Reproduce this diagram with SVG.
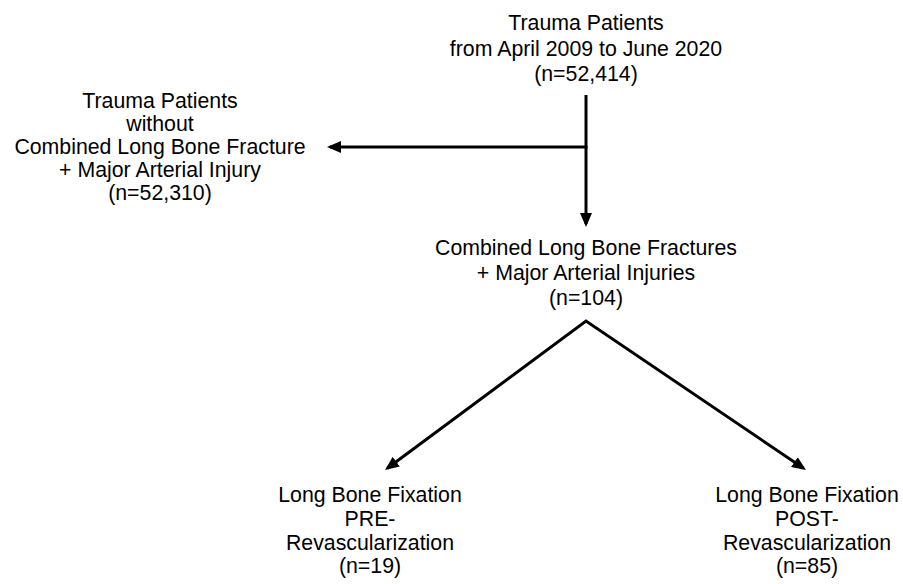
<svg xmlns="http://www.w3.org/2000/svg" width="903" height="584" viewBox="0 0 903 584">
<style>
text{font-family:"Liberation Sans",Arial,sans-serif;font-size:21.3px;fill:#000;text-anchor:middle}
.c{fill:none;stroke:#000;stroke-width:3;stroke-linejoin:miter}
</style>
<defs>
<marker id="ah" viewBox="0 0 14 12" refX="11" refY="6" markerWidth="14" markerHeight="12" markerUnits="userSpaceOnUse" orient="auto-start-reverse">
<path d="M0,0 L14,6 L0,12 z" fill="#000"/>
</marker>
</defs>
<rect width="903" height="584" fill="#fff"/>
<g id="connectors">
<line class="c" x1="586" y1="95" x2="586" y2="224" marker-end="url(#ah)"/>
<line class="c" x1="587.5" y1="147" x2="330" y2="147" marker-end="url(#ah)"/>
<polyline class="c" points="387.4,468.2 586,321 803.5,468.3" marker-start="url(#ah)" marker-end="url(#ah)"/>
</g>
<g id="n-all">
<text x="586" y="30">Trauma Patients</text>
<text x="586" y="55.5">from April 2009 to June 2020</text>
<text x="586" y="81">(n=52,414)</text>
</g>
<g id="n-excluded">
<text x="160" y="108">Trauma Patients</text>
<text x="160" y="131">without</text>
<text x="160" y="154">Combined Long Bone Fracture</text>
<text x="160" y="177">+ Major Arterial Injury</text>
<text x="160" y="200">(n=52,310)</text>
</g>
<g id="n-combined">
<text x="586" y="255">Combined Long Bone Fractures</text>
<text x="586" y="280">+ Major Arterial Injuries</text>
<text x="586" y="305">(n=104)</text>
</g>
<g id="n-pre">
<text x="370" y="502">Long Bone Fixation</text>
<text x="370" y="526">PRE-</text>
<text x="370" y="549.5">Revascularization</text>
<text x="370" y="573">(n=19)</text>
</g>
<g id="n-post">
<text x="807" y="502">Long Bone Fixation</text>
<text x="807" y="526">POST-</text>
<text x="807" y="549.5">Revascularization</text>
<text x="807" y="573">(n=85)</text>
</g>
</svg>
